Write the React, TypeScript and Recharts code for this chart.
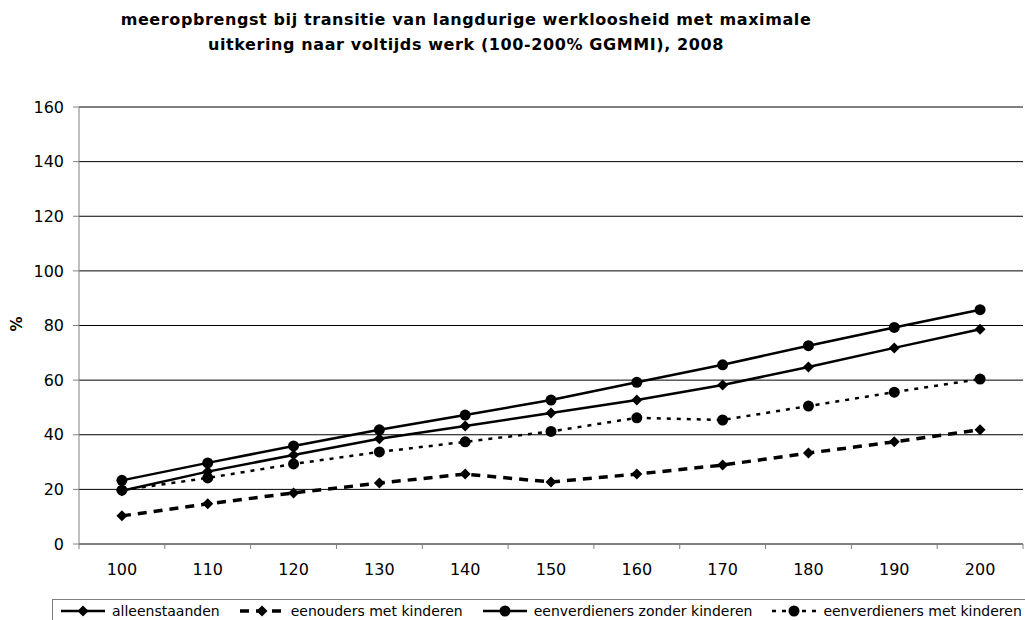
import React from "react"
import {
  LineChart,
  Line,
  XAxis,
  YAxis,
  CartesianGrid,
} from "recharts"

// inkomensniveau in % van het GGMMI
const categories = [100, 110, 120, 130, 140, 150, 160, 170, 180, 190, 200]

const alleenstaanden = [19.5, 26.5, 32.6, 38.5, 43.2, 48, 52.7, 58.2, 64.8, 71.8, 78.6]
const eenouders = [10.3, 14.7, 18.7, 22.3, 25.6, 22.7, 25.6, 28.9, 33.3, 37.4, 41.8]
const eenverdienersZonder = [23.3, 29.7, 35.9, 41.8, 47.2, 52.7, 59.2, 65.6, 72.6, 79.3, 85.8]
const eenverdienersMet = [19.7, 24.2, 29.3, 33.7, 37.4, 41.2, 46.2, 45.4, 50.5, 55.6, 60.4]

const yTicks = [0, 20, 40, 60, 80, 100, 120, 140, 160]

const series = [
  { key: "alleenstaanden", name: "alleenstaanden", values: alleenstaanden, dash: undefined, width: 2.5, marker: "diamond" },
  { key: "eenouders", name: "eenouders met kinderen", values: eenouders, dash: "9 7", width: 3.5, marker: "diamond" },
  { key: "zonder", name: "eenverdieners zonder kinderen", values: eenverdienersZonder, dash: undefined, width: 2.5, marker: "circle" },
  { key: "met", name: "eenverdieners met kinderen", values: eenverdienersMet, dash: "4 6", width: 2.5, marker: "circle" },
]

const data = categories.map((c, i) => {
  const row: Record<string, number | string> = { cat: String(c) }
  series.forEach((s) => {
    row[s.key] = s.values[i]
  })
  return row
})

const FONT = "'DejaVu Sans', Verdana, sans-serif"
const CHART_W = 1025
const CHART_H = 620
const MARGIN = { top: 107, right: 2, bottom: 46, left: 0 }
const Y_W = 79
const PLOT_W = CHART_W - MARGIN.right - MARGIN.left - Y_W
const BAND = PLOT_W / categories.length

function Diamond(props: any) {
  const { cx, cy } = props
  if (cx == null || cy == null) return null
  const r = 5.5
  return (
    <path
      d={`M${cx},${cy - r}L${cx + r},${cy}L${cx},${cy + r}L${cx - r},${cy}Z`}
      fill="#000"
    />
  )
}

function Dot(props: any) {
  const { cx, cy } = props
  if (cx == null || cy == null) return null
  return <circle cx={cx} cy={cy} r={5.5} fill="#000" />
}

// excel zet de streepjes tussen de categorieen
function XTick(props: any) {
  const { x, y, payload, index } = props
  const left = x - BAND / 2
  return (
    <g>
      <line x1={left} y1={y - 8} x2={left} y2={y - 3} stroke="#808080" />
      {index === categories.length - 1 && (
        <line x1={x + BAND / 2} y1={y - 8} x2={x + BAND / 2} y2={y - 3} stroke="#808080" />
      )}
      <text x={x} y={y + 23} textAnchor="middle" fontSize={16} fontFamily={FONT} fill="#000">
        {payload.value}
      </text>
    </g>
  )
}

function LegendSample({ dash, width, marker }: any) {
  return (
    <svg width={48} height={14} style={{ display: "block" }}>
      <line x1={2} y1={7} x2={46} y2={7} stroke="#000" strokeWidth={width} strokeDasharray={dash} />
      {marker === "diamond" ? <Diamond cx={24} cy={7} /> : <Dot cx={24} cy={7} />}
    </svg>
  )
}

export default function App() {
  return (
    <div
      style={{
        position: "absolute",
        left: 0,
        top: 0,
        width: CHART_W,
        height: CHART_H,
        background: "#fff",
        overflow: "hidden",
        fontFamily: FONT,
      }}
    >
      <div
        style={{
          position: "absolute",
          top: 7,
          left: 0,
          width: 932,
          textAlign: "center",
          fontWeight: "bold",
          fontSize: 16,
          letterSpacing: 0.6,
          lineHeight: "25px",
          color: "#000",
        }}
      >
        meeropbrengst bij transitie van langdurige werkloosheid met maximale
        <br />
        uitkering naar voltijds werk (100-200% GGMMI), 2008
      </div>

      <div style={{ position: "absolute", left: 0, top: 0 }}>
        <LineChart width={CHART_W} height={CHART_H} data={data} margin={MARGIN}>
          <CartesianGrid vertical={false} stroke="#000" strokeWidth={1} />
          <XAxis
            dataKey="cat"
            stroke="#808080"
            tickLine={false}
            tick={<XTick />}
            height={30}
            interval={0}
            padding={{ left: BAND / 2, right: BAND / 2 }}
          />
          <YAxis
            domain={[0, 160]}
            ticks={yTicks}
            width={Y_W}
            stroke="#808080"
            tickSize={6}
            tickMargin={9}
            tick={{ fontSize: 16, fontFamily: FONT, fill: "#000" }}
            label={{
              value: "%",
              angle: -90,
              position: "insideLeft",
              offset: 17,
              dy: 6,
              style: { fontSize: 15, fontWeight: "bold", fontFamily: FONT, fill: "#000" },
            }}
          />
          {series.map((s) => (
            <Line
              key={s.key}
              dataKey={s.key}
              name={s.name}
              stroke="#000"
              strokeWidth={s.width}
              strokeDasharray={s.dash}
              dot={s.marker === "diamond" ? <Diamond /> : <Dot />}
              activeDot={false}
              isAnimationActive={false}
            />
          ))}
        </LineChart>
      </div>

      <div
        style={{
          position: "absolute",
          left: 52,
          top: 599,
          width: 990,
          height: 40,
          border: "1px solid #808080",
          display: "flex",
          alignItems: "flex-start",
          paddingTop: 3,
          paddingLeft: 6,
          boxSizing: "border-box",
          gap: 18,
          fontSize: 14,
          color: "#000",
        }}
      >
        {series.map((s) => (
          <div key={s.key} style={{ display: "flex", alignItems: "center", gap: 5 }}>
            <LegendSample dash={s.dash} width={s.width} marker={s.marker} />
            <span>{s.name}</span>
          </div>
        ))}
      </div>
    </div>
  )
}
